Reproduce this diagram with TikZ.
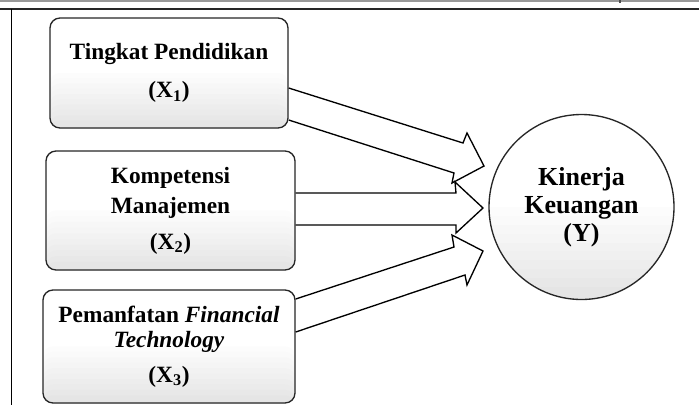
\documentclass[tikz,border=0pt]{standalone}
\usepackage{fontspec}
\setmainfont{Liberation Serif}
\usetikzlibrary{calc}
\begin{document}
\begin{tikzpicture}[x=0.75pt,y=-0.75pt,
  softgrad/.style={fill=white, path picture={
    \foreach \k in {1,...,10}{
      \fill[black!\k]
        ($(path picture bounding box.south west)!{0.5-0.048*(\k-1)}!(path picture bounding box.north west)$)
        rectangle (path picture bounding box.south east);
    }}},
  box/.style={draw=black!85, line width=1pt, rounded corners=7.5pt, softgrad,
    align=center, inner sep=0pt,
    font=\bfseries\fontsize{17.5}{19}\selectfont},
  target/.style={circle, draw=black!85, line width=1pt, inner sep=0pt, softgrad,
    align=center, font=\bfseries\fontsize{19.5}{21}\selectfont},
  blockarrow/.style={draw=black, line width=1pt, line join=miter}]
\useasboundingbox (0,0) rectangle (699,405);
% page frame lines
\draw[black!40, line width=0.8pt] (0,1) -- (699,1);
\draw[black!85, line width=1.5pt] (0,8.5) -- (699,8.5);
\draw[black!70, line width=0.8pt] (620,0) -- (620,3);
\draw[black, line width=1.1pt] (11.5,8.5) -- (11.5,405);
% nodes
\node[box, minimum width=178.5pt, minimum height=82.5pt] (x1) at (169,73)
  {\rule{0pt}{6pt}Tingkat Pendidikan\\[10pt](X\textsubscript{1})};
\node[box, minimum width=186.75pt, minimum height=89.25pt] (x2) at (170.5,210.5)
  {Kompetensi\\[3.5pt]Manajemen\\[8pt](X\textsubscript{2})};
\node[box, minimum width=189pt, minimum height=84.75pt] (x3) at (169,346.5)
  {Pemanfatan \textit{Financial}\\\textit{Technology}\\[7pt](X\textsubscript{3})};
\node[target, minimum size=138.75pt] (y) at (581.5,207)
  {Kinerja\\Keuangan\\(Y)};
% block arrows
\draw[blockarrow] ($(x1.east)+(0,15)$) -- ($(y.center)+(-118.5,-64)$)
  -- ($(y.center)+(-114.5,-74)$) -- ($(y.center)+(-97.5,-41)$)
  -- ($(y.center)+(-129.5,-24)$) -- ($(y.center)+(-127.5,-34)$)
  -- ($(x1.east)+(0,47)$);
\coordinate (a2u) at ($(y.center)+(-125.5,-14)$);
\coordinate (a2l) at ($(y.center)+(-125.5,18)$);
\draw[blockarrow] (x2.east |- a2u) -- (a2u)
  -- ($(y.center)+(-126.5,-25)$) -- ($(y.center)+(-98.5,1)$)
  -- ($(y.center)+(-125.5,26)$) -- (a2l) -- (x2.east |- a2l);
\draw[blockarrow] ($(x3.east)+(0,-47.5)$) -- ($(y.center)+(-127.5,40)$)
  -- ($(y.center)+(-129.5,28)$) -- ($(y.center)+(-98.5,44)$)
  -- ($(y.center)+(-114.5,78)$) -- ($(y.center)+(-116.5,68)$)
  -- ($(x3.east)+(0,-14.5)$);
\end{tikzpicture}
\end{document}
